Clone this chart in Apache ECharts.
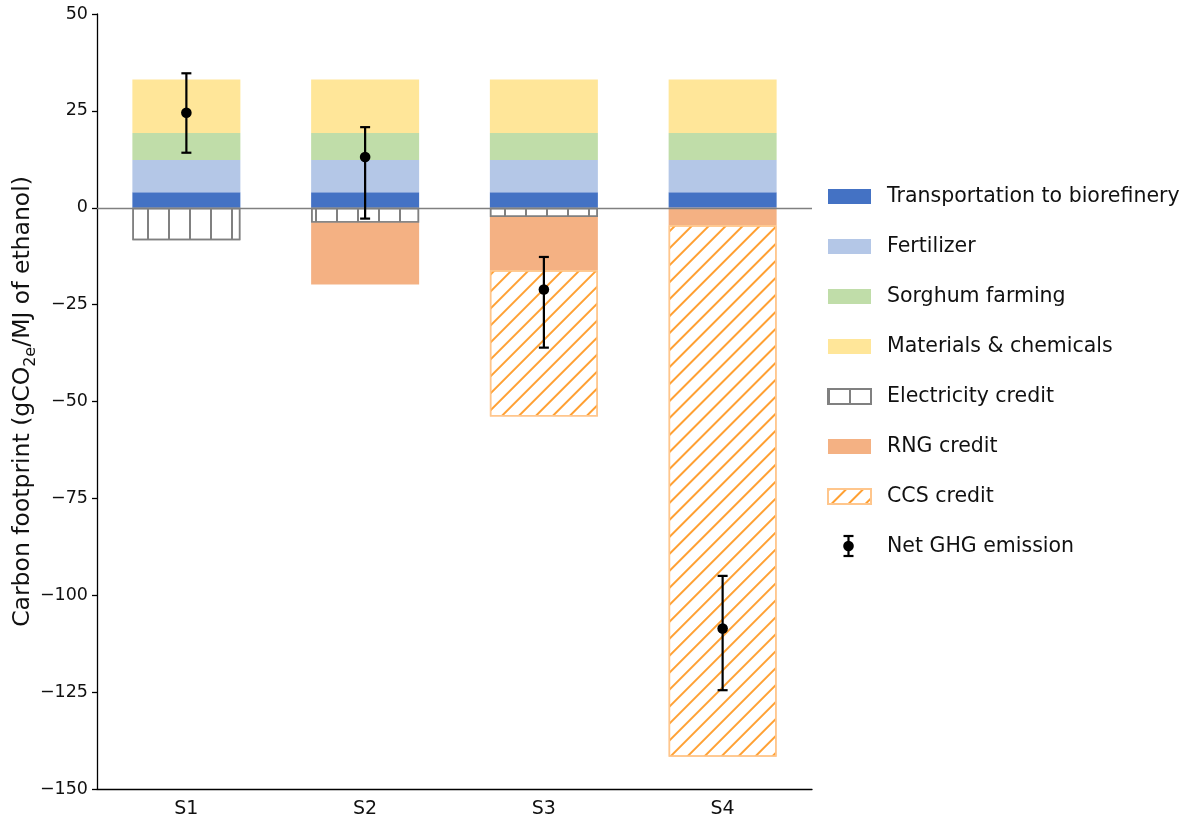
<!DOCTYPE html>
<html>
<head>
<meta charset="utf-8">
<script src="https://cdn.jsdelivr.net/npm/echarts@6/dist/echarts.min.js"></script>
<style>html,body{margin:0;padding:0;background:#fff;}#c{width:1185px;height:824px;}</style>
</head>
<body>
<div id="c"></div>
<script>
const categories = ['S1', 'S2', 'S3', 'S4'];
const transportation = [4.0, 4.0, 4.0, 4.0];
const fertilizer = [8.3, 8.3, 8.3, 8.3];
const sorghum = [7.0, 7.0, 7.0, 7.0];
const materials = [13.8, 13.8, 13.8, 13.8];
const electricity = [-8.4, -3.9, -2.4, '-'];
const rng = ['-', -15.9, -13.7, -4.5];
const ccs = ['-', '-', -37.8, -137.2];
const netGHG = [24.5, 13.1, -21.1, -108.6];
const errLow = [14.2, -2.8, -36.1, -124.5];
const errHigh = [34.7, 20.8, -12.7, -95.0];
const yTicks = {min: -150, max: 50, interval: 25};

const FONT = 'DejaVu Sans';
const errData = categories.map((c, i) => [i, netGHG[i], errLow[i], errHigh[i]]);

function solidBar(name, data, color) {
  return {
    name, type: 'bar', stack: 'total', data, barWidth: 108,
    itemStyle: {color: color},
    emphasis: {disabled: true}
  };
}

// legend layout
const LEG_LEFT = 827, LEG_TOP = 186, LEG_FONT = 20.5, LEG_STEP = 50, LEG_GAP = 29;
const legIconCx = LEG_LEFT + 21.5;
const legIconCy = LEG_TOP + 7 * LEG_STEP + 10;

const chart = echarts.init(document.getElementById('c'), null, {renderer: 'canvas'});
const option = {
  animation: false,
  textStyle: {fontFamily: FONT},
  grid: {left: 97, right: 373, top: 14, bottom: 35, containLabel: false, outerBoundsMode: 'none'},
  legend: {
    orient: 'vertical', left: LEG_LEFT, top: LEG_TOP, padding: 0,
    itemWidth: 43, itemHeight: 15, itemGap: LEG_GAP,
    selectedMode: false, icon: 'rect',
    textStyle: {fontSize: LEG_FONT, color: '#111', fontFamily: FONT, padding: [0, 0, 0, 11]},
    data: [
      {name: 'Transportation to biorefinery', icon: 'rect'},
      {name: 'Fertilizer', icon: 'rect'},
      {name: 'Sorghum farming', icon: 'rect'},
      {name: 'Materials & chemicals', icon: 'rect'},
      {name: 'Electricity credit', icon: 'rect'},
      {name: 'RNG credit', icon: 'rect'},
      {name: 'CCS credit', icon: 'rect'},
      {name: 'Net GHG emission', icon: 'rect', itemStyle: {color: 'rgba(0,0,0,0)', borderWidth: 0}}
    ]
  },
  graphic: [{
    type: 'group', silent: true, z: 100,
    children: [
      {type: 'line', shape: {x1: legIconCx, y1: legIconCy - 10, x2: legIconCx, y2: legIconCy + 10}, style: {stroke: '#000', lineWidth: 2.2}},
      {type: 'line', shape: {x1: legIconCx - 5, y1: legIconCy - 10, x2: legIconCx + 5, y2: legIconCy - 10}, style: {stroke: '#000', lineWidth: 2.2}},
      {type: 'line', shape: {x1: legIconCx - 5, y1: legIconCy + 10, x2: legIconCx + 5, y2: legIconCy + 10}, style: {stroke: '#000', lineWidth: 2.2}},
      {type: 'circle', shape: {cx: legIconCx, cy: legIconCy, r: 5.3}, style: {fill: '#000'}}
    ]
  }],
  xAxis: {
    type: 'category', data: categories,
    axisLine: {onZero: false, lineStyle: {color: '#000', width: 1.3}},
    axisTick: {alignWithLabel: true, length: 5, lineStyle: {color: '#000', width: 1.3}},
    axisLabel: {fontSize: 19, color: '#111', margin: 11, fontFamily: FONT},
    splitLine: {show: false}
  },
  yAxis: {
    type: 'value', min: yTicks.min, max: yTicks.max, interval: yTicks.interval,
    name: 'Carbon footprint (gCO{sub|2e}/MJ of ethanol)',
    nameLocation: 'middle', nameGap: 58, nameMoveOverlap: false,
    nameTextStyle: {fontSize: 23.5, color: '#111', fontFamily: FONT, lineHeight: 32,
      rich: {sub: {fontSize: 16, color: '#111', fontFamily: FONT, verticalAlign: 'bottom'}}},
    axisLine: {show: true, lineStyle: {color: '#000', width: 1.3}},
    axisTick: {show: true, length: 5, lineStyle: {color: '#000', width: 1.3}},
    axisLabel: {fontSize: 17.5, color: '#111', margin: 9, fontFamily: FONT,
      formatter: v => v < 0 ? '\u2212' + Math.abs(v) : String(v)},
    splitLine: {show: false}
  },
  series: [
    Object.assign(solidBar('Transportation to biorefinery', transportation, '#4472C4'), {
      markLine: {
        silent: true, symbol: 'none', label: {show: false},
        lineStyle: {color: '#808080', width: 1.3, type: 'solid'},
        data: [{yAxis: 0}], z: 5
      }
    }),
    solidBar('Fertilizer', fertilizer, '#B4C7E7'),
    solidBar('Sorghum farming', sorghum, '#C0DDA9'),
    solidBar('Materials & chemicals', materials, '#FFE699'),
    {
      name: 'Electricity credit', type: 'bar', stack: 'total', data: electricity, barWidth: 108,
      emphasis: {disabled: true},
      itemStyle: {
        color: '#ffffff', borderColor: '#808080', borderWidth: 1.5,
        decal: {symbol: 'rect', symbolSize: 1, color: '#808080',
          dashArrayX: [1.6, 18.4], dashArrayY: [20, 0], rotation: 0}
      }
    },
    solidBar('RNG credit', rng, '#F4B183'),
    {
      name: 'CCS credit', type: 'bar', stack: 'total', data: ccs, barWidth: 108,
      emphasis: {disabled: true},
      itemStyle: {
        color: '#ffffff', borderColor: '#FFC68C', borderWidth: 1.5,
        decal: {symbol: 'rect', symbolSize: 1, color: '#FFA033',
          dashArrayX: [20, 0], dashArrayY: [1.5, 9.1], rotation: -Math.PI / 4}
      }
    },
    {
      name: 'Net GHG emission', type: 'custom', z: 10,
      itemStyle: {color: '#000'},
      encode: {x: 0, y: [1, 2, 3]},
      data: errData,
      renderItem: function (params, api) {
        const xi = api.value(0);
        const c = api.coord([xi, api.value(1)]);
        const lo = api.coord([xi, api.value(2)]);
        const hi = api.coord([xi, api.value(3)]);
        const hw = 5;
        const st = {stroke: '#000', lineWidth: 2.2};
        return {
          type: 'group', children: [
            {type: 'line', shape: {x1: c[0], y1: hi[1], x2: c[0], y2: lo[1]}, style: st},
            {type: 'line', shape: {x1: c[0] - hw, y1: hi[1], x2: c[0] + hw, y2: hi[1]}, style: st},
            {type: 'line', shape: {x1: c[0] - hw, y1: lo[1], x2: c[0] + hw, y2: lo[1]}, style: st},
            {type: 'circle', shape: {cx: c[0], cy: c[1], r: 5.3}, style: {fill: '#000'}}
          ]
        };
      }
    }
  ]
};
chart.setOption(option);
</script>
</body>
</html>
